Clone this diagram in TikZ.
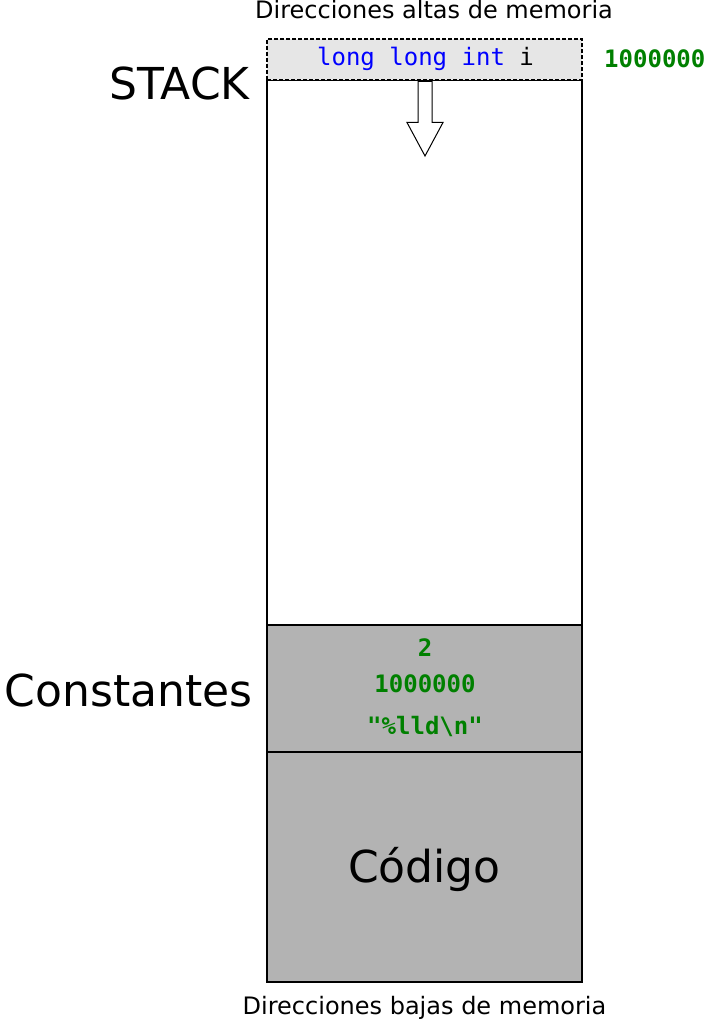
\documentclass[tikz,border=0pt]{standalone}
\usepackage{fontspec}
\setmainfont{DejaVu Sans}
\setmonofont{DejaVu Sans Mono}
\definecolor{codeblue}{HTML}{0000FF}
\definecolor{codegreen}{HTML}{008000}
\definecolor{segfill}{HTML}{B3B3B3}
\definecolor{varfill}{HTML}{E6E6E6}
\begin{document}
\begin{tikzpicture}[x=1pt,y=-1pt,
  small/.style={font=\fontsize{24}{28}\selectfont, inner sep=0pt},
  big/.style={font=\fontsize{44}{50}\selectfont, inner sep=0pt},
  codetxt/.style={font=\fontsize{24}{28}\selectfont\ttfamily, inner sep=0pt},
  constval/.style={font=\fontsize{24}{28}\selectfont\ttfamily\bfseries, text=codegreen, inner sep=0pt},
  region/.style={draw=black, line width=2.6pt, inner sep=0pt, outer sep=0pt, minimum width=315pt},
  varbox/.style={draw=black, dash pattern=on 4pt off 2pt, line width=2pt, fill=varfill, inner sep=0pt, outer sep=0pt, minimum width=315pt},
  growarrow/.style={draw=black, fill=white, line width=1pt, line join=miter},
]
\useasboundingbox (0,0) rectangle (704,1024);

% memory column and its segments
\node[region, fill=white, minimum height=902pt] (mem) at (424.5,531) {};
\node[region, fill=segfill, minimum height=230pt] (code) at (424.5,867) {};
\node[region, fill=segfill, minimum height=127pt] (const) at (424.5,688.5) {};
\node[varbox, minimum height=41pt] (var) at (424.5,59.5) {};

% stack growth direction
\draw[growarrow] (418,81.5) -- (432,81.5) -- (432,122.5) -- (443,122.5)
  -- (425,156) -- (407,122.5) -- (418,122.5) -- cycle;

% variable on the stack and its value
\node[codetxt, anchor=base] (decl) at (425.5,66)
  {\textcolor{codeblue}{long long int} i};
\node[constval, anchor=base west] (ival) at (604,68) {1000000};

% constants segment
\node[constval, anchor=base] (c1) at (425,656) {2};
\node[constval, anchor=base] (c2) at (425,692) {1000000};
\node[constval, anchor=base] (c3) at (425,734) {"\%lld\textbackslash n"};

% section labels
\node[big, anchor=base east] (lstack) at (250,100) {STACK};
\node[big, anchor=base east] (lconst) at (253,706) {Constantes};
\node[big, anchor=base] (lcode) at (424.5,882) {Código};

% address labels
\node[small, anchor=base] (hi) at (434,19) {Direcciones altas de memoria};
\node[small, anchor=base] (lo) at (424.5,1014) {Direcciones bajas de memoria};
\end{tikzpicture}
\end{document}
